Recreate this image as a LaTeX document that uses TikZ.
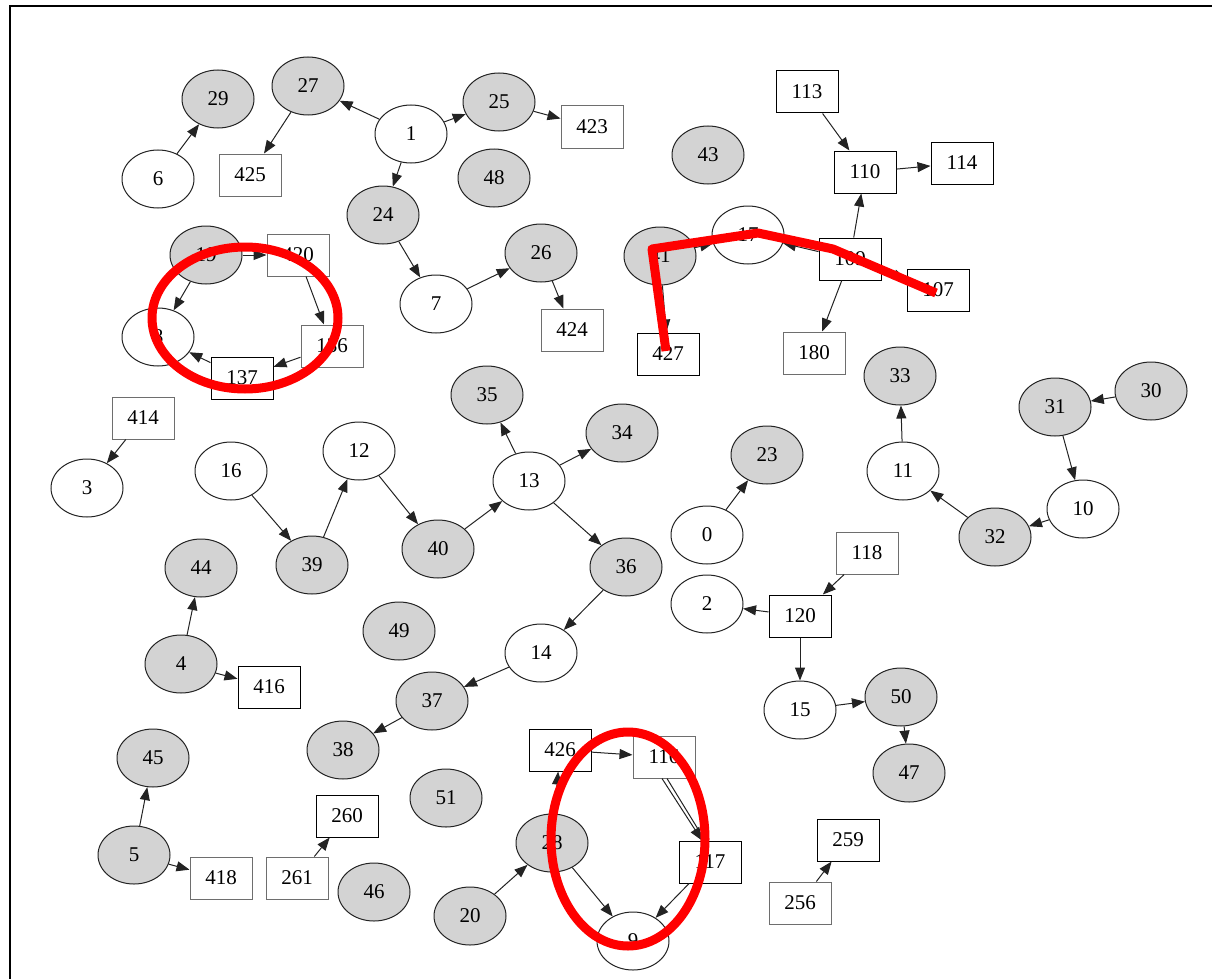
\documentclass[tikz,border=0pt]{standalone}
\usepackage{fontspec}
\setmainfont{Liberation Serif}
\usetikzlibrary{arrows.meta,shapes.geometric}
\definecolor{nodegray}{RGB}{211,211,211}
\definecolor{linegray}{RGB}{35,35,35}
\definecolor{boxgray}{RGB}{110,110,110}
\definecolor{markred}{RGB}{255,0,0}
\tikzset{
  base/.style={inner sep=0pt, font=\fontsize{21}{21}\selectfont, line width=1pt},
  ell/.style={base, ellipse, draw=linegray, fill=white, minimum width=72pt, minimum height=58pt},
  gell/.style={ell, fill=nodegray},
  bx/.style={base, rectangle, draw=black, fill=white, minimum width=62pt, minimum height=42pt},
  gbx/.style={bx, draw=boxgray},
  edge/.style={draw=linegray, line width=1pt, -{Triangle[length=13pt,width=10pt]}},
  plain/.style={draw=linegray, line width=1pt},
  redmark/.style={draw=markred, line width=9pt, line join=round, line cap=round}
}
\begin{document}
\begin{tikzpicture}[x=1pt,y=-1pt]
\useasboundingbox (0,0) rectangle (1212,979);
\draw[line width=2pt] (10,979) -- (10,6) -- (1212,6);

% gray ellipses
\node[gell] (n29) at (218,99) {29};
\node[gell] (n27) at (308,86) {27};
\node[gell] (n25) at (499,102) {25};
\node[gell] (n48) at (494,178) {48};
\node[gell] (n24) at (383,215) {24};
\node[gell] (n26) at (541,253) {26};
\node[gell] (n43) at (708,155) {43};
\node[gell] (n19) at (206,255) {19};
\node[gell] (n41) at (660,256) {41};
\node[gell] (n35) at (487,395) {35};
\node[gell] (n34) at (622,433) {34};
\node[gell] (n39) at (312,565) {39};
\node[gell] (n40) at (438,549) {40};
\node[gell] (n36) at (626,567) {36};
\node[gell] (n44) at (201,568) {44};
\node[gell] (n4) at (181,664) {4};
\node[gell] (n49) at (399,631) {49};
\node[gell] (n37) at (432,701) {37};
\node[gell] (n38) at (343,750) {38};
\node[gell] (n45) at (153,758) {45};
\node[gell] (n5) at (134,855) {5};
\node[gell] (n51) at (446,798) {51};
\node[gell] (n46) at (374,892) {46};
\node[gell] (n20) at (470,916) {20};
\node[gell] (n28) at (552,843) {28};
\node[gell] (n23) at (767,455) {23};
\node[gell] (n50) at (901,697) {50};
\node[gell] (n47) at (909,773) {47};
\node[gell] (n33) at (900,376) {33};
\node[gell] (n31) at (1055,407) {31};
\node[gell] (n30) at (1151,391) {30};
\node[gell] (n32) at (995,537) {32};

% white ellipses
\node[ell] (n6) at (158,179) {6};
\node[ell] (n1) at (411,134) {1};
\node[ell] (n7) at (436,304) {7};
\node[ell] (n8) at (158,337) {8};
\node[ell] (n17) at (748,235) {17};
\node[ell] (n3) at (87,488) {3};
\node[ell] (n16) at (231,471) {16};
\node[ell] (n12) at (359,451) {12};
\node[ell] (n13) at (529,481) {13};
\node[ell] (n14) at (541,653) {14};
\node[ell] (n0) at (707,535) {0};
\node[ell] (n2) at (707,604) {2};
\node[ell] (n15) at (800,710) {15};
\node[ell] (n11) at (903,471) {11};
\node[ell] (n10) at (1083,509) {10};
\node[ell] (n9) at (633,941) {9};

% boxes
\node[gbx] (n425) at (250,175) {425};
\node[gbx] (n423) at (592,127) {423};
\node[gbx] (n424) at (572,330) {424};
\node[bx] (n113) at (807,92) {113};
\node[bx] (n110) at (865,172) {110};
\node[bx] (n114) at (962,163) {114};
\node[bx] (n109) at (850,259) {109};
\node[bx] (n107) at (938,290) {107};
\node[bx] (n427) at (668,354) {427};
\node[gbx] (n180) at (814,353) {180};
\node[gbx] (n420) at (298,255) {420};
\node[gbx] (n136) at (332,346) {136};
\node[bx] (n137) at (242,378) {137};
\node[gbx] (n414) at (143,418) {414};
\node[bx] (n416) at (269,687) {416};
\node[gbx] (n418) at (221,878) {418};
\node[gbx] (n261) at (297,878) {261};
\node[bx] (n260) at (347,816) {260};
\node[bx] (n426) at (560,750) {426};
\node[gbx] (n116) at (664,757) {116};
\node[bx] (n117) at (710,862) {117};
\node[gbx] (n118) at (867,553) {118};
\node[bx] (n120) at (800,616) {120};
\node[bx] (n259) at (848,840) {259};
\node[gbx] (n256) at (800,903) {256};

% edges
\draw[edge] (n6) -- (n29);
\draw[edge] (n27) -- (n425);
\draw[edge] (n1) -- (n27);
\draw[edge] (n1) -- (n25);
\draw[edge] (n25) -- (n423);
\draw[edge] (n1) -- (n24);
\draw[edge] (n24) -- (n7);
\draw[edge] (n7) -- (n26);
\draw[edge] (n26) -- (n424);
\draw[edge] (n19) -- (n420);
\draw[edge] (n19) -- (n8);
\draw[edge] (n420) -- (n136);
\draw[edge] (n136) -- (n137);
\draw[edge] (n137) -- (n8);
\draw[edge] (n41) -- (n17);
\draw[edge] (n41) -- (n427);
\draw[edge] (n109) -- (n17);
\draw[edge] (n109) -- (n110);
\draw[edge] (n109) -- (n180);
\draw[edge] (n109) -- (n107);
\draw[edge] (n113) -- (n110);
\draw[edge] (n110) -- (n114);
\draw[edge] (n414) -- (n3);
\draw[edge] (n16) -- (n39);
\draw[edge] (n39) -- (n12);
\draw[edge] (n12) -- (n40);
\draw[edge] (n40) -- (n13);
\draw[edge] (n13) -- (n35);
\draw[edge] (n13) -- (n34);
\draw[edge] (n13) -- (n36);
\draw[edge] (n36) -- (n14);
\draw[edge] (n14) -- (n37);
\draw[edge] (n37) -- (n38);
\draw[edge] (n0) -- (n23);
\draw[edge] (n118) -- (n120);
\draw[edge] (n120) -- (n2);
\draw[edge] (n120) -- (n15);
\draw[edge] (n15) -- (n50);
\draw[edge] (n50) -- (n47);
\draw[edge] (n30) -- (n31);
\draw[edge] (n31) -- (n10);
\draw[edge] (n10) -- (n32);
\draw[edge] (n32) -- (n11);
\draw[edge] (n11) -- (n33);
\draw[edge] (n4) -- (n44);
\draw[edge] (n4) -- (n416);
\draw[edge] (n5) -- (n45);
\draw[edge] (n5) -- (n418);
\draw[edge] (n261) -- (n260);
\draw[edge] (n20) -- (n28);
\draw[edge] (n28) -- (n426);
\draw[edge] (n426) -- (n116);
\draw[edge] ([xshift=-2pt]n116.south) -- ([xshift=-8pt]n117.north);
\draw[plain] ([xshift=3pt]n116.south) -- ([xshift=-5pt]n117.north);
\draw[edge] (n28) -- (n9);
\draw[edge] (n117) -- (n9);
\draw[edge] (n256) -- (n259);

% red annotations
\draw[redmark] (245,318) ellipse [x radius=93pt, y radius=71pt];
\draw[redmark] (628,839) ellipse [x radius=77pt, y radius=107pt];
\draw[redmark, line cap=butt] (666,351) -- (652,249) -- (758,233) -- (833,249) -- (936,293);
\end{tikzpicture}
\end{document}
